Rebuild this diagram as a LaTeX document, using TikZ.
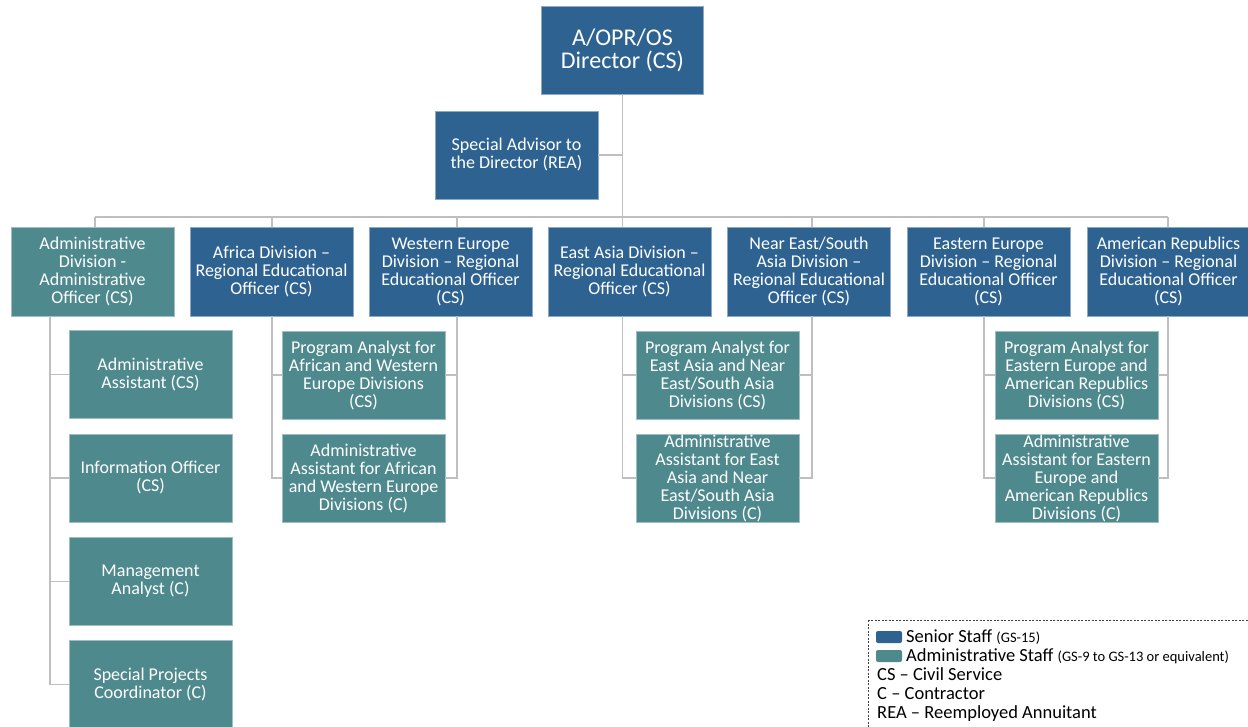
\documentclass[tikz,border=0pt]{standalone}
\usepackage{fontspec}
\setmainfont{Carlito}
\usetikzlibrary{calc}
\definecolor{senior}{HTML}{2E6391}
\definecolor{admin}{HTML}{4E898E}
\definecolor{linkc}{HTML}{BFBFBF}
\newcommand\legsmallfont{\fontsize{14.5}{16}\selectfont}
\begin{document}
\begin{tikzpicture}[x=1pt,y=-1pt,
  box/.style={rectangle, inner sep=0pt, align=center, text=white,
    font=\fontsize{18}{18}\selectfont, minimum width=163pt, minimum height=89pt, line width=0.8pt},
  sen/.style={box, fill=senior, draw=senior!55!white},
  adm/.style={box, fill=admin, draw=admin!55!white},
  kid/.style={adm, minimum height=88pt},
  link/.style={draw=linkc, line width=1.3pt},
  legtext/.style={anchor=base west, inner sep=0pt, font=\fontsize{18.5}{20}\selectfont}]
\useasboundingbox (0,0) rectangle (1248,727);
\fill[white] (0,0) rectangle (1248,727);

% top
\node[sen, minimum width=162pt, minimum height=88pt, font=\fontsize{24}{23}\selectfont] (dir) at (622.5,50) {A/OPR/OS\\Director (CS)};
\node[sen, minimum height=88pt] (sa) at (516.5,155) {Special Advisor to\\the Director (REA)};

% divisions
\node[adm] (ad) at (92.5,271.5) {Administrative\\Division -\\Administrative\\Officer (CS)};
\node[sen] (af) at (271.5,271.5) {Africa Division –\\Regional Educational\\Officer (CS)};
\node[sen] (we) at (450.5,271.5) {Western Europe\\Division – Regional\\Educational Officer\\(CS)};
\node[sen] (ea) at (629.5,271.5) {East Asia Division –\\Regional Educational\\Officer (CS)};
\node[sen] (ne) at (809,271.5) {Near East/South\\Asia Division –\\Regional Educational\\Officer (CS)};
\node[sen] (ee) at (988.5,271.5) {Eastern Europe\\Division – Regional\\Educational Officer\\(CS)};
\node[sen] (ar) at (1168.5,271.5) {American Republics\\Division – Regional\\Educational Officer\\(CS)};

% administrative division staff
\node[kid] (aa) at (150.5,374.5) {Administrative\\Assistant (CS)};
\node[kid] (io) at (150.5,478) {Information Officer\\(CS)};
\node[kid] (ma) at (150.5,581.5) {Management\\Analyst (C)};
\node[kid] (sp) at (150.5,684.5) {Special Projects\\Coordinator (C)};

% shared staff
\node[kid] (pa1) at (363.5,375) {Program Analyst for\\African and Western\\Europe Divisions\\(CS)};
\node[kid] (as1) at (363.5,478) {Administrative\\Assistant for African\\and Western Europe\\Divisions (C)};
\node[kid] (pa2) at (717.5,375) {Program Analyst for\\East Asia and Near\\East/South Asia\\Divisions (CS)};
\node[kid] (as2) at (717.5,478) {Administrative\\Assistant for East\\Asia and Near\\East/South Asia\\Divisions (C)};
\node[kid] (pa3) at (1076.5,375) {Program Analyst for\\Eastern Europe and\\American Republics\\Divisions (CS)};
\node[kid] (as3) at (1076.5,478) {Administrative\\Assistant for Eastern\\Europe and\\American Republics\\Divisions (C)};

% connector guide coordinates
\coordinate (bus) at (0,217);
\coordinate (tad) at (95,0);
\coordinate (lad) at (50,0);
\coordinate (laf) at (272,0);
\coordinate (lwe) at (457,0);
\coordinate (lea) at (622.5,0);
\coordinate (lne) at (812,0);
\coordinate (lee) at (984,0);
\coordinate (lar) at (1168,0);

% connectors
\draw[link] (dir.south) -- (dir.south |- bus);
\draw[link] (sa.east) -- (sa.east -| dir.south);
\draw[link] (tad |- bus) -- (lar |- bus);
\draw[link] (tad |- bus) -- (tad |- ad.north);
\draw[link] (laf |- bus) -- (laf |- af.north);
\draw[link] (lwe |- bus) -- (lwe |- we.north);
\draw[link] (lea |- bus) -- (lea |- ea.north);
\draw[link] (lne |- bus) -- (lne |- ne.north);
\draw[link] (lee |- bus) -- (lee |- ee.north);
\draw[link] (lar |- bus) -- (lar |- ar.north);

\draw[link] (lad |- ad.south) -- (lad |- sp.west) -- (sp.west);
\draw[link] (lad |- aa.west) -- (aa.west);
\draw[link] (lad |- io.west) -- (io.west);
\draw[link] (lad |- ma.west) -- (ma.west);

\draw[link] (laf |- af.south) -- (laf |- as1.west) -- (as1.west);
\draw[link] (laf |- pa1.west) -- (pa1.west);
\draw[link] (lwe |- we.south) -- (lwe |- as1.east) -- (as1.east);
\draw[link] (lwe |- pa1.east) -- (pa1.east);

\draw[link] (lea |- ea.south) -- (lea |- as2.west) -- (as2.west);
\draw[link] (lea |- pa2.west) -- (pa2.west);
\draw[link] (lne |- ne.south) -- (lne |- as2.east) -- (as2.east);
\draw[link] (lne |- pa2.east) -- (pa2.east);

\draw[link] (lee |- ee.south) -- (lee |- as3.west) -- (as3.west);
\draw[link] (lee |- pa3.west) -- (pa3.west);
\draw[link] (lar |- ar.south) -- (lar |- as3.east) -- (as3.east);
\draw[link] (lar |- pa3.east) -- (pa3.east);

% legend
\draw[draw=black!75, line width=0.7pt, dash pattern=on 2pt off 1.5pt] (868,620) rectangle (1252,732);
\fill[senior, rounded corners=2pt] (876,631) rectangle (902,643);
\fill[admin, rounded corners=2pt] (876,650) rectangle (902,662);
\node[legtext] (leg1) at (906,642) {Senior Staff {\legsmallfont(GS-15)}};
\node[legtext] (leg2) at (906,661) {Administrative Staff {\legsmallfont(GS-9 to GS-13 or equivalent)}};
\node[legtext] (leg3) at (877,680) {CS – Civil Service};
\node[legtext] (leg4) at (877,699) {C – Contractor};
\node[legtext] (leg5) at (877,718) {REA – Reemployed Annuitant};
\end{tikzpicture}
\end{document}
